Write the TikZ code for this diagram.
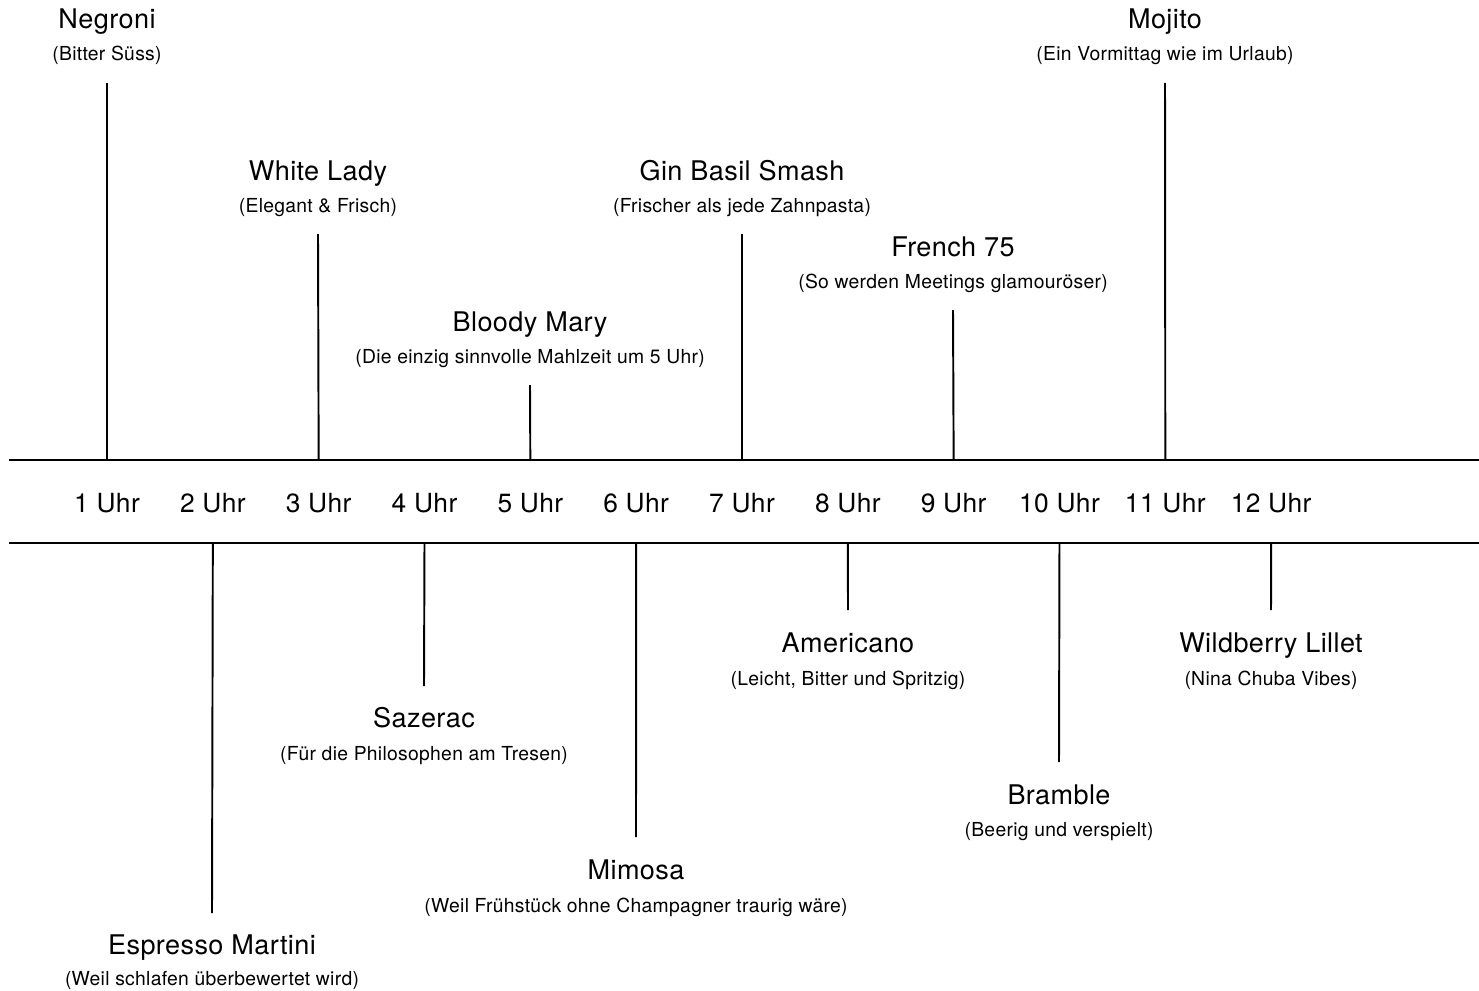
\documentclass[tikz,border=0pt]{standalone}
\usepackage{fontspec}
\setmainfont{TeX Gyre Heros}[LetterSpace=1.5]
\tikzset{
  achse/.style={line width=1.1pt},
  stiel/.style={line width=1.1pt},
  drink/.style={font=\fontsize{15.4}{18}\selectfont, anchor=base, inner sep=0pt},
  notiz/.style={font=\fontsize{11}{13}\selectfont, anchor=base, inner sep=0pt},
  stunde/.style={font=\fontsize{15}{18}\selectfont, anchor=base, inner sep=0pt},
}
\begin{document}
\begin{tikzpicture}[x=0.02cm,y={(0cm,-0.02cm)}]
  \useasboundingbox (0,0) rectangle (1479,990);
  % Zeitachse
  \coordinate (oL) at (9,460); \coordinate (oR) at (1479,460);
  \coordinate (uL) at (9,543); \coordinate (uR) at (1479,543);
  \draw[achse] (oL) -- (oR);
  \draw[achse] (uL) -- (uR);
  \foreach \h in {1,...,12}
    \node[stunde] (h\h) at ({107+105.83*(\h-1)},512) {\h{} Uhr};
  % oben
  \coordinate (negroni) at (107,83);
  \draw[stiel] (h1 |- oL) -- (negroni);
  \node[drink] (negroniT) at (107,29) {Negroni};
  \node[notiz] (negroniU) at (107,61) {(Bitter Süss)};
  \coordinate (whitelady) at (318,234);
  \draw[stiel] (h3 |- oL) -- (whitelady);
  \node[drink] (whiteladyT) at (318,180) {White Lady};
  \node[notiz] (whiteladyU) at (318,212) {(Elegant \& Frisch)};
  \coordinate (bloodymary) at (530,385);
  \draw[stiel] (h5 |- oL) -- (bloodymary);
  \node[drink] (bloodymaryT) at (530,331) {Bloody Mary};
  \node[notiz] (bloodymaryU) at (530,363) {(Die einzig sinnvolle Mahlzeit um 5 Uhr)};
  \coordinate (ginbasil) at (742,234);
  \draw[stiel] (h7 |- oL) -- (ginbasil);
  \node[drink] (ginbasilT) at (742,180) {Gin Basil Smash};
  \node[notiz] (ginbasilU) at (742,212) {(Frischer als jede Zahnpasta)};
  \coordinate (french) at (953,310);
  \draw[stiel] (h9 |- oL) -- (french);
  \node[drink] (frenchT) at (953,256) {French 75};
  \node[notiz] (frenchU) at (953,288) {(So werden Meetings glamouröser)};
  \coordinate (mojito) at (1165,83);
  \draw[stiel] (h11 |- oL) -- (mojito);
  \node[drink] (mojitoT) at (1165,29) {Mojito};
  \node[notiz] (mojitoU) at (1165,61) {(Ein Vormittag wie im Urlaub)};
  % unten
  \coordinate (espresso) at (212,913);
  \draw[stiel] (h2 |- uL) -- (espresso);
  \node[drink] (espressoT) at (212,954) {Espresso Martini};
  \node[notiz] (espressoU) at (212,985) {(Weil schlafen überbewertet wird)};
  \coordinate (sazerac) at (424,686);
  \draw[stiel] (h4 |- uL) -- (sazerac);
  \node[drink] (sazeracT) at (424,727) {Sazerac};
  \node[notiz] (sazeracU) at (424,760) {(Für die Philosophen am Tresen)};
  \coordinate (mimosa) at (636,837);
  \draw[stiel] (h6 |- uL) -- (mimosa);
  \node[drink] (mimosaT) at (636,879) {Mimosa};
  \node[notiz] (mimosaU) at (636,912) {(Weil Frühstück ohne Champagner traurig wäre)};
  \coordinate (americano) at (848,610);
  \draw[stiel] (h8 |- uL) -- (americano);
  \node[drink] (americanoT) at (848,652) {Americano};
  \node[notiz] (americanoU) at (848,685) {(Leicht, Bitter und Spritzig)};
  \coordinate (bramble) at (1059,762);
  \draw[stiel] (h10 |- uL) -- (bramble);
  \node[drink] (brambleT) at (1059,804) {Bramble};
  \node[notiz] (brambleU) at (1059,836) {(Beerig und verspielt)};
  \coordinate (lillet) at (1271,610);
  \draw[stiel] (h12 |- uL) -- (lillet);
  \node[drink] (lilletT) at (1271,652) {Wildberry Lillet};
  \node[notiz] (lilletU) at (1271,685) {(Nina Chuba Vibes)};
\end{tikzpicture}
\end{document}
